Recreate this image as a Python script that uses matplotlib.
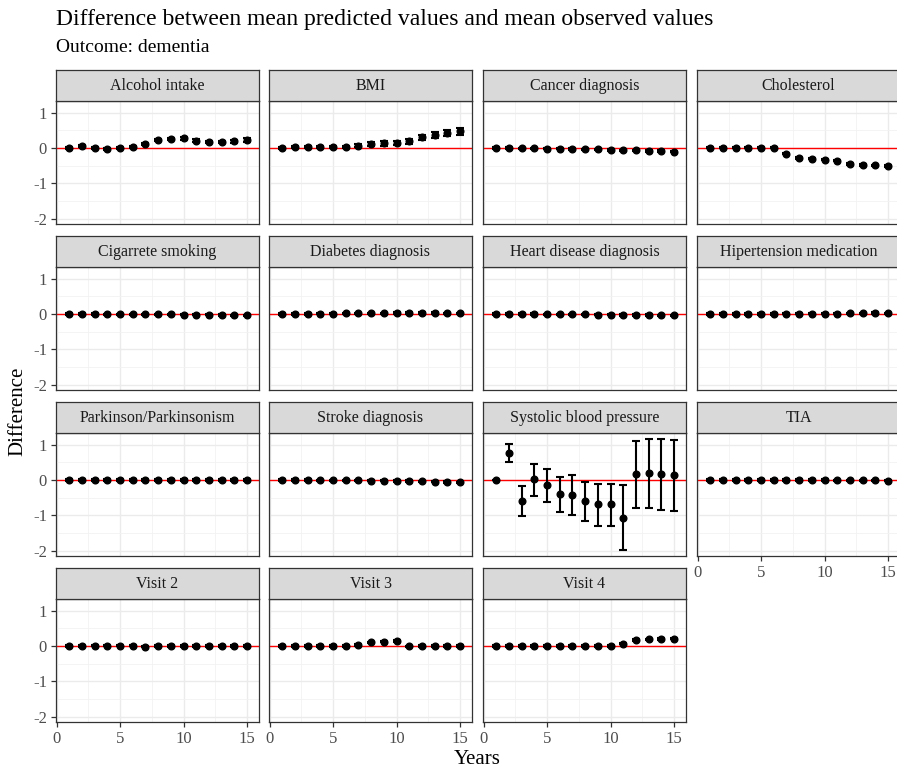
import matplotlib
matplotlib.use("Agg")
import matplotlib.pyplot as plt
from matplotlib.ticker import MultipleLocator

plt.rcParams['font.family'] = ['Liberation Serif', 'DejaVu Serif']

years = list(range(1, 16))

panel_names = ["Alcohol intake", "BMI", "Cancer diagnosis", "Cholesterol",
               "Cigarrete smoking", "Diabetes diagnosis", "Heart disease diagnosis",
               "Hipertension medication", "Parkinson/Parkinsonism", "Stroke diagnosis",
               "Systolic blood pressure", "TIA", "Visit 2", "Visit 3", "Visit 4"]

# mean difference and half-width of the interval
alcohol_mean = [0.00, 0.05, 0.01, -0.04, 0.01, 0.02, 0.11, 0.22, 0.25, 0.27, 0.21, 0.17, 0.17, 0.19, 0.23]
alcohol_err = [0.02, 0.03, 0.03, 0.03, 0.03, 0.03, 0.03, 0.03, 0.03, 0.03, 0.04, 0.04, 0.04, 0.04, 0.05]
bmi_mean = [0.00, 0.03, 0.03, 0.04, 0.04, 0.02, 0.06, 0.12, 0.13, 0.15, 0.19, 0.30, 0.36, 0.42, 0.48]
bmi_err = [0.02, 0.03, 0.03, 0.03, 0.03, 0.03, 0.04, 0.05, 0.06, 0.06, 0.07, 0.08, 0.08, 0.09, 0.10]
cancer_mean = [0.00, 0.00, -0.01, -0.01, -0.02, -0.02, -0.03, -0.04, -0.04, -0.06, -0.07, -0.07, -0.08, -0.09, -0.10]
cancer_err = [0.02] * 15
chol_mean = [0.01, 0.01, 0.01, 0.01, 0.01, 0.01, -0.16, -0.28, -0.30, -0.33, -0.36, -0.45, -0.48, -0.49, -0.51]
chol_err = [0.02] * 15
smoke_mean = [0.00, 0.00, 0.00, -0.01, -0.01, -0.01, -0.01, -0.01, -0.01, -0.02, -0.02, -0.02, -0.03, -0.04, -0.04]
smoke_err = [0.02] * 15
diab_mean = [0.00, 0.00, 0.00, 0.01, 0.01, 0.02, 0.02, 0.02, 0.02, 0.03, 0.03, 0.03, 0.03, 0.02, 0.02]
diab_err = [0.02] * 15
heart_mean = [0.00, 0.00, 0.00, 0.00, -0.01, -0.01, -0.01, -0.01, -0.02, -0.02, -0.03, -0.03, -0.03, -0.04, -0.04]
heart_err = [0.02] * 15
hyper_mean = [0.00, 0.00, 0.00, 0.00, 0.00, 0.00, 0.01, 0.01, 0.01, 0.01, 0.01, 0.02, 0.02, 0.03, 0.02]
hyper_err = [0.02] * 15
park_mean = [0.00] * 15
park_err = [0.015] * 15
stroke_mean = [0.00, 0.00, 0.00, -0.01, -0.01, -0.01, -0.01, -0.02, -0.02, -0.03, -0.03, -0.04, -0.05, -0.06, -0.07]
stroke_err = [0.02] * 15
tia_mean = [0.00, 0.00, 0.00, 0.00, 0.00, 0.00, 0.00, 0.00, 0.00, 0.00, -0.01, -0.01, -0.01, -0.01, -0.02]
tia_err = [0.015] * 15
visit2_mean = [0.00, 0.00, 0.01, 0.01, 0.01, 0.01, -0.02, 0.00, 0.00, 0.00, 0.00, 0.00, 0.00, 0.00, 0.00]
visit2_err = [0.02] * 15
visit3_mean = [0.00, 0.00, 0.00, 0.00, 0.00, 0.00, 0.03, 0.10, 0.12, 0.14, -0.01, 0.00, 0.00, 0.00, 0.00]
visit3_err = [0.02] * 15
visit4_mean = [0.00, 0.00, 0.00, 0.00, 0.00, 0.00, 0.00, 0.00, 0.00, 0.00, 0.07, 0.17, 0.19, 0.20, 0.21]
visit4_err = [0.02] * 15

# systolic blood pressure has wide, asymmetric intervals
sbp_mean = [0.00, 0.76, -0.59, 0.02, -0.14, -0.40, -0.43, -0.58, -0.68, -0.69, -1.07, 0.16, 0.19, 0.16, 0.13]
sbp_low = [-0.01, 0.51, -1.03, -0.46, -0.63, -0.91, -0.98, -1.15, -1.29, -1.31, -1.99, -0.79, -0.80, -0.85, -0.89]
sbp_high = [0.01, 1.02, -0.17, 0.46, 0.32, 0.09, 0.13, -0.06, -0.10, -0.10, -0.15, 1.11, 1.16, 1.15, 1.13]

sym = lambda e: (list(e), list(e))
panels = [
    (alcohol_mean, sym(alcohol_err)),
    (bmi_mean, sym(bmi_err)),
    (cancer_mean, sym(cancer_err)),
    (chol_mean, sym(chol_err)),
    (smoke_mean, sym(smoke_err)),
    (diab_mean, sym(diab_err)),
    (heart_mean, sym(heart_err)),
    (hyper_mean, sym(hyper_err)),
    (park_mean, sym(park_err)),
    (stroke_mean, sym(stroke_err)),
    (sbp_mean, ([m - l for m, l in zip(sbp_mean, sbp_low)],
                [h - m for m, h in zip(sbp_mean, sbp_high)])),
    (tia_mean, sym(tia_err)),
    (visit2_mean, sym(visit2_err)),
    (visit3_mean, sym(visit3_err)),
    (visit4_mean, sym(visit4_err)),
]

W, H = 897, 768
fig = plt.figure(figsize=(W / 100, H / 100), dpi=100)

col_left = [56, 269, 483, 697]
row_top = [101, 267, 433, 599]
pw, ph, sh = 203, 123, 31

dark = "#333333"
for i, (name, (mean, err)) in enumerate(zip(panel_names, panels)):
    r, c = divmod(i, 4)
    x0, y0 = col_left[c], row_top[r]
    ax = fig.add_axes([x0 / W, 1 - (y0 + ph) / H, pw / W, ph / H])
    ax.set_xlim(-0.05, 15.95)
    ax.set_ylim(-2.15, 1.33)
    ax.xaxis.set_major_locator(MultipleLocator(5))
    ax.xaxis.set_minor_locator(MultipleLocator(2.5))
    ax.yaxis.set_major_locator(MultipleLocator(1))
    ax.yaxis.set_minor_locator(MultipleLocator(0.5))
    ax.grid(which='major', color='#EBEBEB', lw=1.0)
    ax.grid(which='minor', color='#F2F2F2', lw=0.6)
    ax.set_axisbelow(True)
    for s in ax.spines.values():
        s.set_color(dark)
        s.set_linewidth(0.9)
    ax.axhline(0, color='red', lw=1.0, zorder=2)
    ax.errorbar(years, mean, yerr=err, fmt='o', color='black', ms=4.8,
                elinewidth=1.5, capsize=2.7, capthick=1.5, zorder=3)

    show_x = (r == 3) or (r == 2 and c == 3)
    show_y = (c == 0)
    ax.tick_params(which='minor', length=0)
    ax.tick_params(axis='both', which='major', length=3.5, width=0.9, color=dark,
                   labelsize=12, labelcolor='#4D4D4D', pad=3)
    ax.tick_params(axis='x', bottom=show_x, labelbottom=show_x)
    ax.tick_params(axis='y', left=show_y, labelleft=show_y)
    if show_y:
        ax.set_yticks([-2, -1, 0, 1])
        ax.set_yticklabels(["-2", "-1", "0", "1"])

    sax = fig.add_axes([x0 / W, 1 - y0 / H, pw / W, sh / H])
    sax.set_facecolor('#D9D9D9')
    sax.set_xticks([])
    sax.set_yticks([])
    for s in sax.spines.values():
        s.set_color(dark)
        s.set_linewidth(0.9)
    sax.text(0.5, 0.5, name, ha='center', va='center', fontsize=11.5,
             color='#1A1A1A', transform=sax.transAxes)

fig.text(56 / W, 1 - 20 / H, "Difference between mean predicted values and mean observed values",
         fontsize=17, ha='left', va='center', color='black')
fig.text(56 / W, 1 - 48 / H, "Outcome: dementia", fontsize=14, ha='left', va='center', color='black')
fig.text(477 / W, 1 - 760 / H, "Years", fontsize=15, ha='center', va='center')
fig.text(18 / W, 1 - 411 / H, "Difference", fontsize=15, ha='center', va='center', rotation=90)

fig.savefig("out.png", dpi=100, facecolor='white')
